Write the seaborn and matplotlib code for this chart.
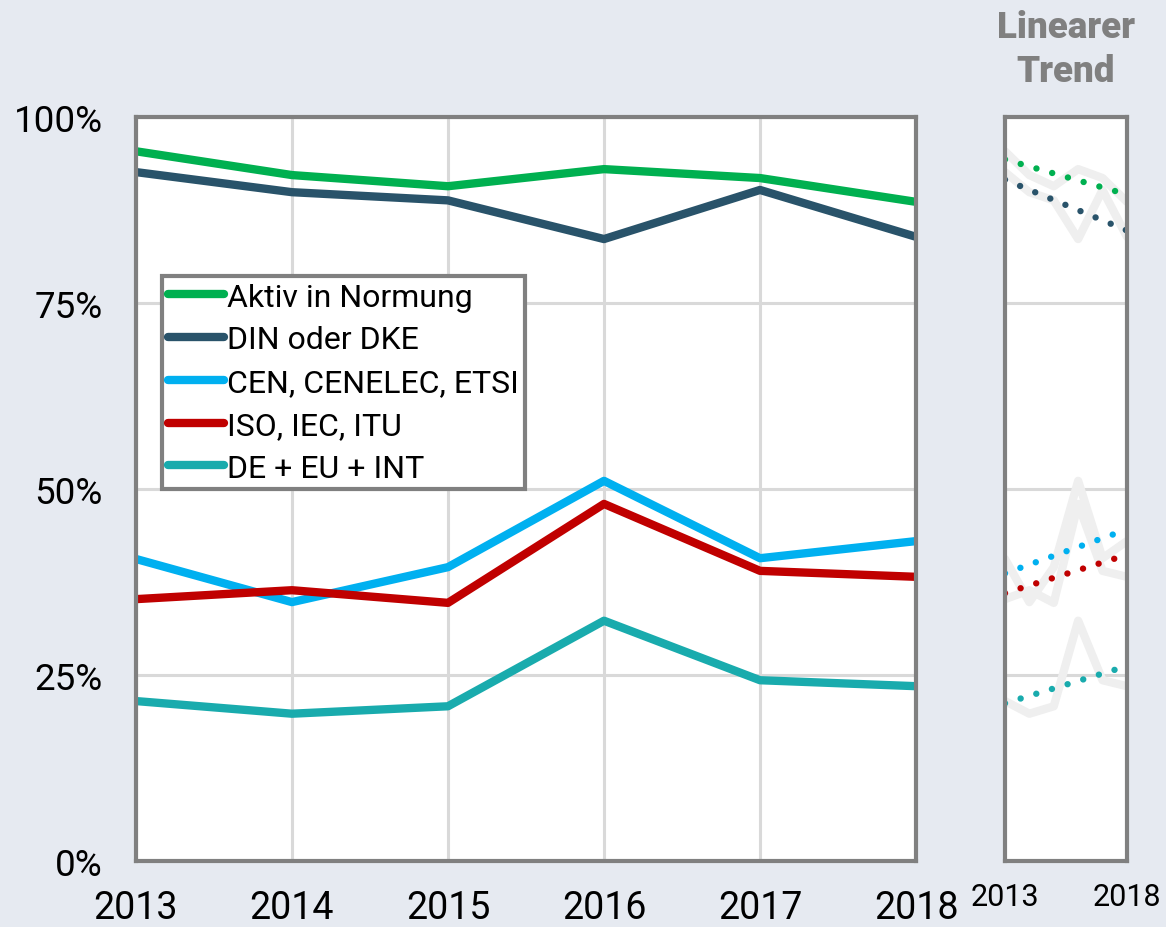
import numpy as np
import pandas as pd
import matplotlib
matplotlib.use('Agg')
import matplotlib.pyplot as plt
from matplotlib.ticker import PercentFormatter
import seaborn as sns

# values (share in %)
years = [2013, 2014, 2015, 2016, 2017, 2018]
aktiv = [95.4, 92.2, 90.7, 93.0, 91.8, 88.6]
din_dke = [92.6, 89.9, 88.8, 83.6, 90.2, 83.9]
cen_etsi = [40.6, 34.8, 39.5, 51.1, 40.7, 43.0]
iso_itu = [35.2, 36.4, 34.7, 48.0, 39.0, 38.2]
de_eu_int = [21.5, 19.8, 20.8, 32.3, 24.3, 23.5]

series_names = ['Aktiv in Normung', 'DIN oder DKE', 'CEN, CENELEC, ETSI',
                'ISO, IEC, ITU', 'DE + EU + INT']
series_vals = [aktiv, din_dke, cen_etsi, iso_itu, de_eu_int]
colors = ['#00b050', '#29536a', '#00b0f0', '#c00000', '#19abad']
yticks = [0, 25, 50, 75, 100]

bg = '#e6eaf1'
frame = '#808080'
grid = '#d9d9d9'

df = pd.DataFrame({
    'year': years * len(series_names),
    'value': sum(series_vals, []),
    'series': [n for n in series_names for _ in years],
})

sns.set_style('white')
plt.rcParams['font.family'] = ['Roboto', 'DejaVu Sans']
plt.rcParams['text.color'] = 'black'
plt.rcParams['xtick.color'] = 'black'
plt.rcParams['ytick.color'] = 'black'

fig = plt.figure(figsize=(11.66, 9.28), dpi=100, facecolor=bg)
ax = fig.add_axes([0.1166, 0.0711, 0.669, 0.8017])
ax2 = fig.add_axes([0.8619, 0.0711, 0.1046, 0.8017])

# main chart
sns.lineplot(data=df, x='year', y='value', hue='series', hue_order=series_names,
             palette=colors, lw=6, ax=ax, zorder=3)
ax.set_xlim(2013, 2018)
ax.set_ylim(0, 100)
ax.set_xticks(years)
ax.set_yticks(yticks)
ax.yaxis.set_major_formatter(PercentFormatter(decimals=0))
ax.grid(True, color=grid, lw=2.2)
ax.set_axisbelow(True)
ax.set_xlabel('')
ax.set_ylabel('')
ax.tick_params(axis='y', length=0, labelsize=26.5, pad=24)
ax.tick_params(axis='x', length=0, labelsize=27, pad=20)
for sp in ax.spines.values():
    sp.set_color(frame)
    sp.set_linewidth(3)
    sp.set_zorder(5)

handles, labels = ax.get_legend_handles_labels()
for h in handles:
    h.set_solid_capstyle('round')
    h.set_linewidth(6)
leg = ax.legend(handles, labels, loc='upper left', bbox_to_anchor=(0.033, 0.786),
                fontsize=23, frameon=True, fancybox=False, edgecolor=frame,
                framealpha=1, handlelength=1.75, handletextpad=0.1,
                borderpad=0.2, labelspacing=0.43, borderaxespad=0)
leg.get_frame().set_linewidth(3)

# trend panel: faint original lines + linear trend per series
sns.lineplot(data=df, x='year', y='value', units='series', estimator=None,
             color='#efefef', lw=6, ax=ax2, zorder=2)
for vals, c in zip(series_vals, colors):
    sns.regplot(x=np.array(years), y=np.array(vals), ci=None, scatter=False, ax=ax2,
                line_kws={'color': c, 'lw': 4.6, 'ls': (0, (0.01, 2.55)),
                          'dash_capstyle': 'round', 'zorder': 3})
ax2.set_xlim(2013, 2018)
ax2.set_ylim(0, 100)
ax2.set_xticks([2013, 2018])
ax2.set_yticks(yticks)
ax2.set_yticklabels([])
ax2.grid(True, axis='y', color=grid, lw=2.2)
ax2.set_axisbelow(True)
ax2.set_xlabel('')
ax2.set_ylabel('')
ax2.tick_params(axis='both', length=0)
ax2.tick_params(axis='x', labelsize=22, pad=15)
for sp in ax2.spines.values():
    sp.set_color(frame)
    sp.set_linewidth(3)
    sp.set_zorder(5)
ax2.set_title('Linearer\nTrend', fontsize=26.5, fontweight='heavy', color=frame,
              linespacing=1.3, pad=26)

fig.savefig('out.png', dpi=100, facecolor=bg)
